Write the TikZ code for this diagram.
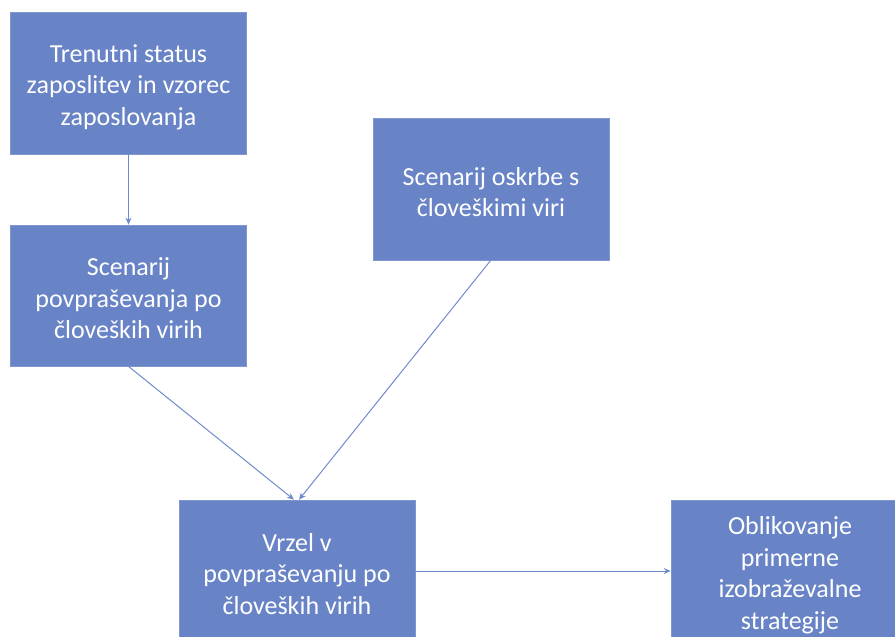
\documentclass[tikz,border=0pt]{standalone}
\usepackage{fontspec}
\setmainfont{Carlito}
\usetikzlibrary{arrows.meta}
\definecolor{boxblue}{RGB}{104,131,198}
\definecolor{linkblue}{RGB}{110,140,205}
\tikzset{
  box/.style={fill=boxblue, draw=boxblue!85!white, line width=0.6pt, minimum width=236pt, minimum height=142pt, inner sep=0pt},
  boxtext/.style={text=white, align=center, inner sep=0pt, font=\fontsize{26}{31.5}\selectfont},
  link/.style={draw=linkblue, line width=1pt, -{Stealth[length=7pt,width=6pt]}}
}
\begin{document}
\begin{tikzpicture}[x=1pt,y=-1pt]
\useasboundingbox (0,0) rectangle (895,637);
\clip (0,0) rectangle (895,637);
\fill[white] (0,0) rectangle (895,637);
\node[box] (b1) at (128.5,83) {};
\node[box, minimum height=141pt] (b2) at (128.5,295.5) {};
\node[box] (b3) at (491,189) {};
\node[box] (b4) at (297,571) {};
\node[box, minimum width=238pt] (b5) at (790,571) {};
\node[boxtext] (t1) at ([yshift=-4pt]b1.center) {Trenutni status\\zaposlitev in vzorec\\zaposlovanja};
\node[boxtext] (t2) at ([yshift=-3pt]b2.center) {Scenarij\\povpraševanja po\\človeških virih};
\node[boxtext] (t3) at ([yshift=-3pt]b3.center) {Scenarij oskrbe s\\človeškimi viri};
\node[boxtext] (t4) at ([yshift=-3pt]b4.center) {Vrzel v\\povpraševanju po\\človeških virih};
\node[boxtext] (t5) at ([yshift=-4pt]b5.center) {Oblikovanje\\primerne\\izobraževalne\\strategije};
\draw[link] (b1.south) -- (b2.north);
\draw[link] (128,366) -- ([xshift=-3pt]b4.north);
\draw[link] (491,260) -- ([xshift=2pt]b4.north);
\draw[link] (b4.east) -- (b5.west);
\end{tikzpicture}
\end{document}
